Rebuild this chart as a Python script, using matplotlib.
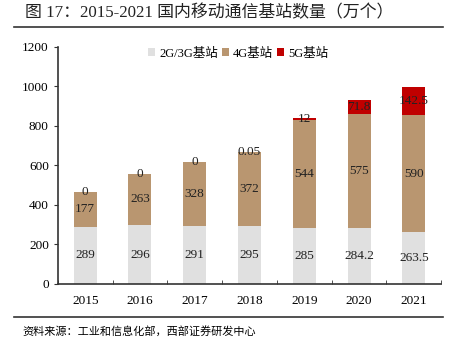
import numpy as np
import matplotlib
matplotlib.use('Agg')
import matplotlib.pyplot as plt
from matplotlib.lines import Line2D

plt.rcParams['font.family'] = ['Liberation Serif', 'Noto Sans CJK SC']

years = ['2015', '2016', '2017', '2018', '2019', '2020', '2021']
g23 = [289, 296, 291, 295, 285, 284.2, 263.5]
g4 = [177, 263, 328, 372, 544, 575, 590]
g5 = [0, 0, 0, 0.05, 12, 71.8, 142.5]
series_names = ['2G/3G基站', '4G基站', '5G基站']
colors = ['#E0E0E0', '#B99670', '#C00000']

fig = plt.figure(figsize=(4.52, 3.45), dpi=100)
ax = fig.add_axes([0.128, 0.177, 0.848, 0.687])

x = np.arange(len(years))
w = 0.42
bottom = np.zeros(len(years))
for vals, name, c in zip([g23, g4, g5], series_names, colors):
    vals = np.array(vals, dtype=float)
    ax.bar(x, vals, w, bottom=bottom, color=c, label=name, edgecolor='none')
    for xi, b, v in zip(x, bottom, vals):
        lab = ('%g' % v)
        ax.text(xi, b + v / 2, lab, ha='center', va='center', fontsize=9.5, color='#222222')
    bottom += vals

ax.set_xlim(-0.5, 6.5)
ax.set_ylim(0, 1200)
ax.set_yticks(range(0, 1201, 200))
ax.set_xticks(x)
ax.set_xticklabels(years)
ax.set_xticks(np.arange(-0.5, 7, 1), minor=True)
ax.tick_params(axis='x', which='major', length=0, pad=8, labelsize=9.5)
ax.tick_params(axis='x', which='minor', length=3, direction='in', color='#333333')
ax.tick_params(axis='y', length=3, labelsize=9.5, color='#333333')
for s in ['top', 'right']:
    ax.spines[s].set_visible(False)
for s in ['left', 'bottom']:
    ax.spines[s].set_color('#333333')
    ax.spines[s].set_linewidth(1.2)

ax.legend(loc='upper center', bbox_to_anchor=(0.47, 1.045), ncol=3, frameon=False,
          fontsize=9, handlelength=0.6, handleheight=0.6, handletextpad=0.3, columnspacing=0.3)

fig.text(0.055, 0.963, '图 17：2015-2021 国内移动通信基站数量（万个）', fontsize=12.2,
         va='center', color='#222222')
fig.add_artist(Line2D([0.03, 0.98], [0.922, 0.922], color='#333333', lw=1.2))
fig.add_artist(Line2D([0.03, 0.98], [0.081, 0.081], color='#333333', lw=1.2))
fig.text(0.05, 0.040, '资料来源：工业和信息化部，西部证券研发中心', fontsize=8, va='center')

fig.savefig('out.png', dpi=100)
